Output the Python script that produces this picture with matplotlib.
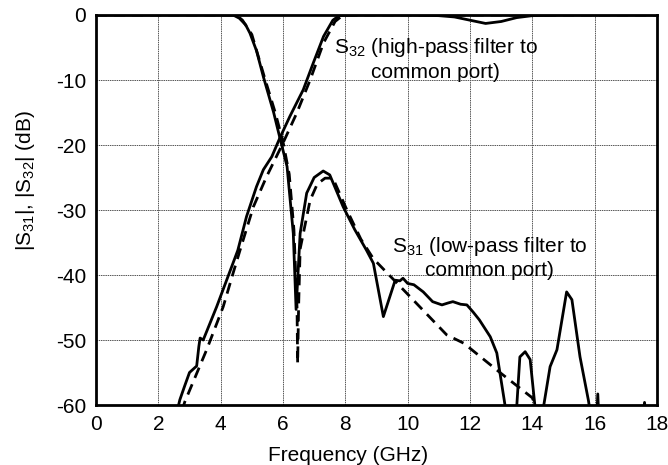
import numpy as np
import matplotlib
matplotlib.use("Agg")
import matplotlib.pyplot as plt
from matplotlib.patches import Rectangle

plt.rcParams['font.family'] = ['Liberation Sans', 'DejaVu Sans']
plt.rcParams['mathtext.default'] = 'regular'
plt.rcParams['axes.unicode_minus'] = False

# S32 (high-pass filter to common port)
s32_meas_f = [2.6, 2.69, 2.85, 3.0, 3.23, 3.3, 3.34, 3.44, 3.87, 4.23, 4.55, 4.83, 5.15, 5.37,
              5.64, 5.9, 6.22, 6.65, 6.97, 7.3, 7.6, 7.8, 8.5, 10.0, 11.0, 11.5, 12.0, 12.5,
              13.0, 13.5, 14.0, 15.0, 18.0]
s32_meas_db = [-61, -59.2, -57, -55, -54, -51, -49.7, -50, -44.9, -40.3, -36.2, -31, -26.4, -23.8,
               -21.8, -18.9, -15.6, -11.5, -7.4, -3.3, -0.8, -0.1, 0, 0, -0.1, -0.3, -0.8, -1.3,
               -1.0, -0.4, -0.1, 0, 0]
s32_sim_f = [2.75, 2.85, 3.2, 3.55, 4.08, 4.4, 4.62, 5.05, 5.47, 6.0, 6.44, 6.87, 7.3, 7.67,
             7.93, 10.0, 18.0]
s32_sim_db = [-61, -59.5, -55.5, -51.5, -44.9, -39.7, -36.2, -29.5, -24.9, -19.7, -15.1, -10, -4.3, -1,
              0, 0, 0]

# S31 (low-pass filter to common port)
s31_meas_f = [0, 4.4, 4.6, 4.8, 4.94, 5.15, 5.37, 5.55, 5.7, 5.9, 6.13, 6.33, 6.42, 6.55, 6.76,
              7.0, 7.29, 7.5, 7.93, 8.3, 8.68, 8.9, 9.22, 9.6, 9.75, 9.85, 10.0, 10.2, 10.5,
              10.8, 11.1, 11.3, 11.45, 11.7, 11.9, 12.1, 12.3, 12.65, 12.86, 13.1, 13.25, 13.45,
              13.6, 13.77, 13.93, 14.08, 14.2, 14.3, 14.57, 14.79, 15.1, 15.27, 15.53, 15.8, 15.95,
              16.05, 16.1, 16.15, 17.5, 17.6, 17.7]
s31_meas_db = [0, 0, -0.5, -1.5, -2.8, -5.5, -9.5, -12.5, -15, -18.9, -23.3, -33.6, -45.3, -33.6, -27.4,
               -25, -24, -24.6, -29.5, -33, -36.2, -38.2, -46.4, -40.8, -40.9, -40.5, -41.3, -41.5, -42.6,
               -44.1, -44.6, -44.3, -44.1, -44.5, -44.6, -45.7, -46.9, -49.5, -52, -59.3, -64, -64,
               -52.6, -51.8, -53, -60, -64, -62, -54.1, -51.5, -42.6, -43.8, -52.6, -59.3, -64,
               -64, -58.3, -64, -64, -59.6, -64]
s31_sim_f = [0, 4.5, 4.7, 5.0, 5.4, 5.75, 6.0, 6.2, 6.35, 6.45, 6.47, 6.5, 6.55, 6.87, 7.1, 7.35,
             7.6, 8.05, 8.5, 8.9, 9.97, 11.25, 11.8, 12.96, 13.6, 14.0, 14.15]
s31_sim_db = [0, 0, -0.8, -3, -9.5, -15, -19.5, -24.5, -33, -45, -53.6, -45, -36, -28.5, -26, -25.1,
              -25.1, -30, -34.5, -37.5, -42.8, -49.2, -50.5, -55, -57.4, -58.9, -61]

xticks = list(range(0, 19, 2))
yticks = list(range(-60, 1, 10))

fig = plt.figure(figsize=(6.68, 4.65), dpi=100)
ax = fig.add_axes([96 / 668, 1 - 405 / 465, 561 / 668, 390 / 465])

# white areas behind the labels hide the grid
ax.add_patch(Rectangle((6.87, -12.5), 8.43, 11.0, facecolor='white', edgecolor='none', zorder=1))
ax.add_patch(Rectangle((9.1, -42.8), 7.55, 11.3, facecolor='white', edgecolor='none', zorder=1))

ax.plot(s32_meas_f, s32_meas_db, color='black', lw=2.0, solid_joinstyle='round', zorder=3)
ax.plot(s32_sim_f, s32_sim_db, color='black', lw=2.0, ls=(0, (4, 2.5)), zorder=3)
ax.plot(s31_meas_f, s31_meas_db, color='black', lw=2.0, solid_joinstyle='round', zorder=3)
ax.plot(s31_sim_f, s31_sim_db, color='black', lw=2.0, ls=(0, (4, 2.5)), zorder=3)

ax.set_xlim(0, 18)
ax.set_ylim(-60, 0)
ax.set_xticks(xticks)
ax.set_yticks(yticks)
ax.tick_params(length=0, labelsize=15, pad=7)
ax.grid(True, color='#555555', lw=0.7, ls=(0, (1.5, 0.8)), zorder=0.5)
for s in ax.spines.values():
    s.set_linewidth(2.0)
    s.set_zorder(5)

ax.text(10.9, -6.8, 'S$_{32}$ (high-pass filter to\ncommon port)', ha='center', va='center',
        fontsize=15, linespacing=1.25, zorder=4)
ax.text(12.62, -37.3, 'S$_{31}$ (low-pass filter to\ncommon port)', ha='center', va='center',
        fontsize=15, linespacing=1.25, zorder=4)

ax.set_xlabel('Frequency (GHz)', fontsize=15)
ax.xaxis.set_label_coords((348 - 96) / 561, -0.105)
ax.set_ylabel('|S$_{31}$|, |S$_{32}$| (dB)', fontsize=15)
ax.yaxis.set_label_coords(-0.105, (405 - 180) / 390)

fig.savefig('out.png', dpi=100)
